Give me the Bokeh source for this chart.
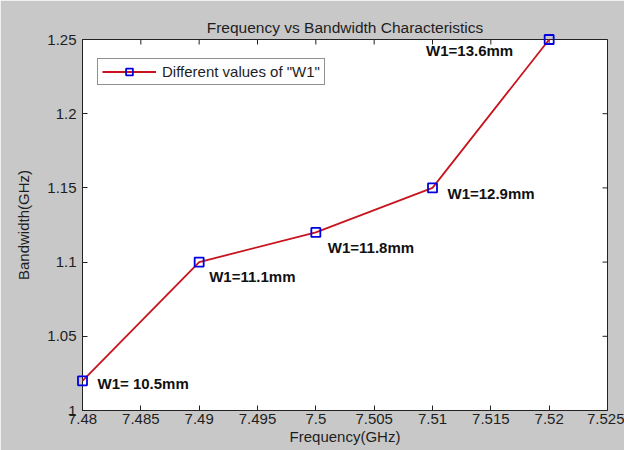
from bokeh.plotting import figure
from bokeh.models import FixedTicker, Range1d, Legend, LegendItem
from bokeh.core.properties import value
from bokeh.embed import file_html
from bokeh.resources import INLINE

# ---- data ----
freq = [7.48, 7.49, 7.50, 7.51, 7.52]
bandwidth = [1.02, 1.10, 1.12, 1.15, 1.25]
point_labels = ["W1= 10.5mm", "W1=11.1mm", "W1=11.8mm", "W1=12.9mm", "W1=13.6mm"]
x_ticks = [7.48, 7.485, 7.49, 7.495, 7.5, 7.505, 7.51, 7.515, 7.52, 7.525]
x_tick_labels = ["7.48", "7.485", "7.49", "7.495", "7.5", "7.505", "7.51", "7.515", "7.52", "7.525"]
y_ticks = [1.0, 1.05, 1.1, 1.15, 1.2, 1.25]
y_tick_labels = ["1", "1.05", "1.1", "1.15", "1.2", "1.25"]
title_text = "Frequency vs Bandwidth Characteristics"
x_label = "Frequency(GHz)"
y_label = "Bandwidth(GHz)"
legend_label = 'Different values of "W1"'

# label pixel offsets (style, not data)
lab_dx = [15, 10, 12, 15]
lab_dy = [3, 14, 15, 6]

FONT = "Liberation Sans"
GRAY = "#c8c8c8"
TXT = "#1e1e1e"
AX = "#222222"

x0, x1 = x_ticks[0], x_ticks[-1]
y0, y1 = y_ticks[0], y_ticks[-1]

p = figure(width=624, height=450, x_range=Range1d(x0, x1), y_range=Range1d(y0, y1),
           output_backend="svg", toolbar_location=None,
           background_fill_color="white", border_fill_color=GRAY,
           min_border_left=82, min_border_right=17, min_border_top=39, min_border_bottom=40,
           outline_line_color=AX, outline_line_width=1)

p.xgrid.visible = False
p.ygrid.visible = False

p.title.text = title_text
p.title.align = "center"
p.title.text_font = FONT
p.title.text_font_style = "normal"
p.title.text_font_size = "15.5px"
p.title.text_color = TXT
p.title.standoff = 8

def style_axis(ax):
    ax.major_tick_in = 5
    ax.major_tick_out = 0
    ax.minor_tick_in = 0
    ax.minor_tick_out = 0
    ax.axis_line_color = AX
    ax.major_tick_line_color = AX
    ax.major_label_text_font = FONT
    ax.major_label_text_font_size = "15px"
    ax.major_label_text_color = TXT
    ax.axis_label_text_font = FONT
    ax.axis_label_text_font_size = "15px"
    ax.axis_label_text_font_style = "normal"
    ax.axis_label_text_color = TXT

xa = p.xaxis[0]
xa.ticker = FixedTicker(ticks=x_ticks)
xa.major_label_overrides = dict(zip(x_ticks, x_tick_labels))
xa.axis_label = x_label
style_axis(xa)
xa.major_label_standoff = 3
xa.axis_label_standoff = 1

ya = p.yaxis[0]
ya.ticker = FixedTicker(ticks=y_ticks)
ya.major_label_overrides = dict(zip(y_ticks, y_tick_labels))
ya.axis_label = y_label
style_axis(ya)
ya.major_label_standoff = 6
ya.axis_label_standoff = 12

# inward ticks on top and right edges (box on): half of each dash is clipped by the frame
p.scatter(x_ticks, [y1] * len(x_ticks), marker="dash", angle=1.5707963, size=10,
          line_color=AX, line_width=1)
p.scatter([x1] * len(y_ticks), y_ticks, marker="dash", size=10,
          line_color=AX, line_width=1)

line_r = p.line(freq, bandwidth, line_color="#c8141e", line_width=1.8)
mark_r = p.scatter(freq, bandwidth, marker="square", size=9, fill_color=None,
                   line_color="#0000e0", line_width=1.8)
line_r.level = "overlay"
mark_r.level = "overlay"

p.text(x=freq[:4], y=bandwidth[:4], text=point_labels[:4], x_offset=lab_dx, y_offset=lab_dy,
       text_align="left", text_baseline="middle", text_font=value(FONT),
       text_font_style="bold", text_font_size="15px", text_color="#111111")
p.text(x=freq[4:], y=bandwidth[4:], text=point_labels[4:], x_offset=-36, y_offset=11,
       text_align="right", text_baseline="middle", text_font=value(FONT),
       text_font_style="bold", text_font_size="15px", text_color="#111111")

legend = Legend(items=[LegendItem(label=legend_label, renderers=[line_r, mark_r])],
                location=(15, 325), padding=4, margin=0, spacing=0,
                glyph_width=54, glyph_height=17, label_height=17, label_standoff=6,
                label_text_font=FONT, label_text_font_size="15px", label_text_color=TXT,
                border_line_color=AX, border_line_width=1,
                background_fill_color="white", background_fill_alpha=1)
p.add_layout(legend)

open("out.html", "w").write(file_html(p, INLINE))
